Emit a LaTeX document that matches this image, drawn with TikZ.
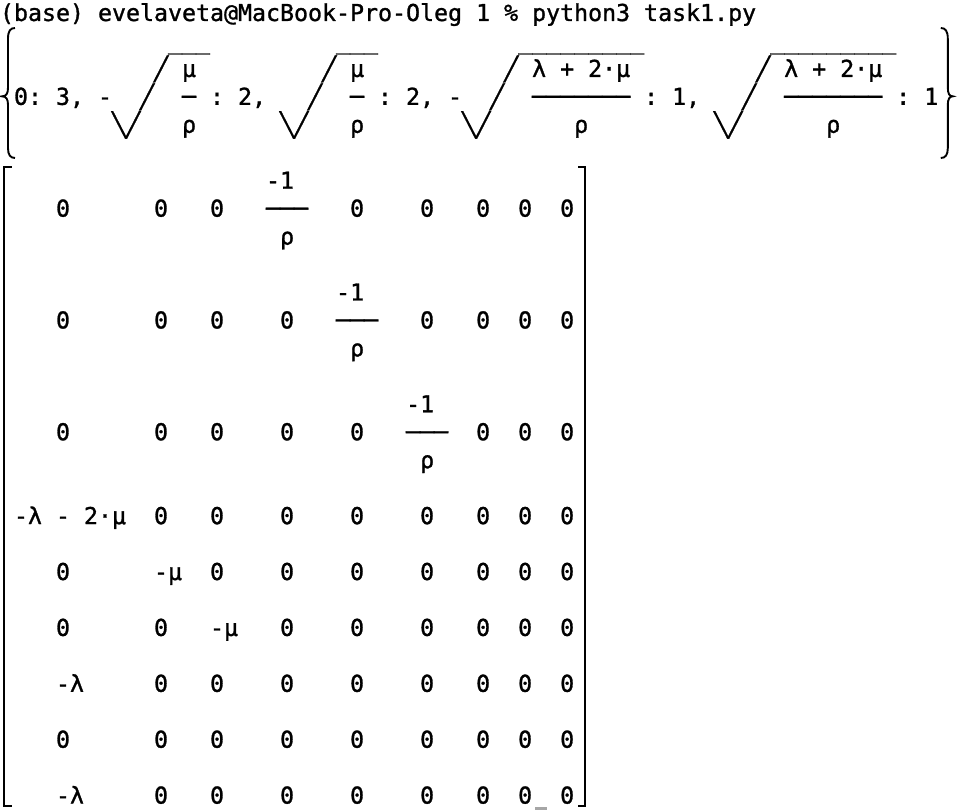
\documentclass[tikz,border=0pt]{standalone}
\usepackage{fontspec}
\usepackage{tikz}
\newfontfamily\termfont[FakeBold=1.2]{DejaVu Sans Mono}

\begin{document}
\begin{tikzpicture}[x=7pt,y=-13.975pt,
  term/.style={anchor=base west,inner sep=0pt,outer sep=0pt,
    font=\termfont\fontsize{11.63pt}{13.975pt}\selectfont\frenchspacing},
  fence/.style={line width=0.95pt}]
  \useasboundingbox (0,-0.447) rectangle (69.714,28.533);
  \node[term] (prompt) at (0,0.304)
    {(base)~evelaveta@MacBook-Pro-Oleg~1~\%~python3~task1.py};
  \node[term] (rootbar) at (0,1.304)
    {~~~~~~~~~~~~\_\_\_~~~~~~~~~\_\_\_~~~~~~~~~~\_\_\_\_\_\_\_\_\_~~~~~~~~~\_\_\_\_\_\_\_\_\_};
  \node[term] (rootnum) at (0,2.304)
    {~~~~~~~~~~~╱~μ~~~~~~~~~╱~μ~~~~~~~~~~╱~λ~+~2⋅μ~~~~~~~~~╱~λ~+~2⋅μ};
  \node[term] (rootmid) at (0,3.304)
    {~0:~3,~-~~╱~~─~:~2,~~~╱~~─~:~2,~-~~╱~~───────~:~1,~~~╱~~───────~:~1};
  \node[term] (rootden) at (0,4.304)
    {~~~~~~~~╲╱~~~ρ~~~~~~╲╱~~~ρ~~~~~~~╲╱~~~~~~ρ~~~~~~~~~╲╱~~~~~~ρ};
  \node[term] (rowAnum) at (0,6.304)
    {~~~~~~~~~~~~~~~~~~~-1};
  \node[term] (rowA) at (0,7.304)
    {~~~~0~~~~~~0~~~0~~~───~~~0~~~~0~~~0~~0~~0};
  \node[term] (rowAden) at (0,8.304)
    {~~~~~~~~~~~~~~~~~~~~ρ};
  \node[term] (rowBnum) at (0,10.304)
    {~~~~~~~~~~~~~~~~~~~~~~~~-1};
  \node[term] (rowB) at (0,11.304)
    {~~~~0~~~~~~0~~~0~~~~0~~~───~~~0~~~0~~0~~0};
  \node[term] (rowBden) at (0,12.304)
    {~~~~~~~~~~~~~~~~~~~~~~~~~ρ};
  \node[term] (rowCnum) at (0,14.304)
    {~~~~~~~~~~~~~~~~~~~~~~~~~~~~~-1};
  \node[term] (rowC) at (0,15.304)
    {~~~~0~~~~~~0~~~0~~~~0~~~~0~~~───~~0~~0~~0};
  \node[term] (rowCden) at (0,16.304)
    {~~~~~~~~~~~~~~~~~~~~~~~~~~~~~~ρ};
  \node[term] (rowD) at (0,18.304)
    {~-λ~-~2⋅μ~~0~~~0~~~~0~~~~0~~~~0~~~0~~0~~0};
  \node[term] (rowE) at (0,20.304)
    {~~~~0~~~~~~-μ~~0~~~~0~~~~0~~~~0~~~0~~0~~0};
  \node[term] (rowF) at (0,22.304)
    {~~~~0~~~~~~0~~~-μ~~~0~~~~0~~~~0~~~0~~0~~0};
  \node[term] (rowG) at (0,24.304)
    {~~~~-λ~~~~~0~~~0~~~~0~~~~0~~~~0~~~0~~0~~0};
  \node[term] (rowH) at (0,26.304)
    {~~~~0~~~~~~0~~~0~~~~0~~~~0~~~~0~~~0~~0~~0};
  \node[term] (rowI) at (0,28.304)
    {~~~~-λ~~~~~0~~~0~~~~0~~~~0~~~~0~~~0~~0~~0};
  \draw[fence]
    (1.07,0.555)
    .. controls (0.75,0.555) and (0.57,0.65) ..
    (0.57,0.95)
    --
    (0.57,2.7)
    .. controls (0.57,2.9) and (0.45,3) ..
    (0.14,3)
    .. controls (0.45,3) and (0.57,3.1) ..
    (0.57,3.3)
    --
    (0.57,4.85)
    .. controls (0.57,5.1) and (0.75,5.206) ..
    (1.07,5.206);
  \draw[fence]
    (67.2,0.555)
    .. controls (67.52,0.555) and (67.7,0.65) ..
    (67.7,0.95)
    --
    (67.7,2.7)
    .. controls (67.7,2.9) and (67.82,3) ..
    (68.05,3)
    .. controls (67.82,3) and (67.7,3.1) ..
    (67.7,3.3)
    --
    (67.7,4.85)
    .. controls (67.7,5.1) and (67.52,5.206) ..
    (67.2,5.206);
  \draw[fence]
    (0.85,5.52)
    --
    (0.3,5.52)
    --
    (0.3,28.4)
    --
    (0.85,28.4);
  \draw[fence]
    (41.3,5.52)
    --
    (41.79,5.52)
    --
    (41.79,28.4)
    --
    (41.3,28.4);
  \fill[gray!70]
    (38.2,28.43)
    rectangle
    (39.1,28.6);
\end{tikzpicture}
\end{document}
